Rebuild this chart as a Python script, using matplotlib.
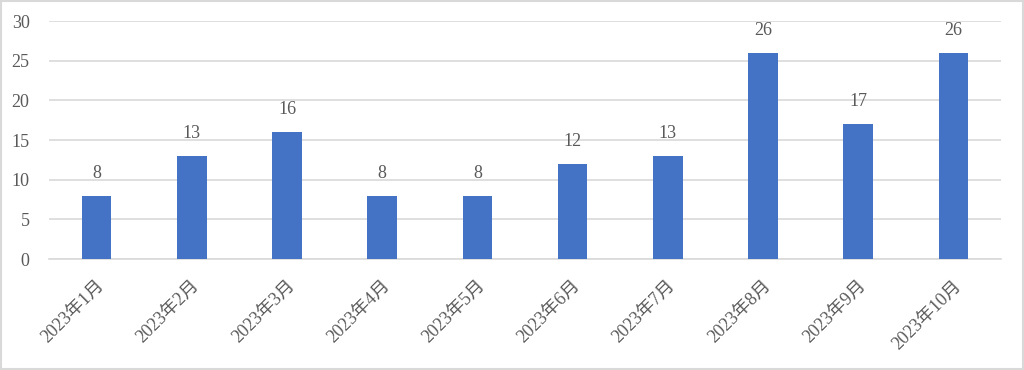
import matplotlib.pyplot as plt
import matplotlib.transforms as mtransforms
import numpy as np

plt.rcParams['font.family'] = ['Liberation Serif', 'Noto Sans CJK JP']

months = ["2023年1月", "2023年2月", "2023年3月", "2023年4月", "2023年5月",
          "2023年6月", "2023年7月", "2023年8月", "2023年9月", "2023年10月"]
counts = [8, 13, 16, 8, 8, 12, 13, 26, 17, 26]
y_ticks = [0, 5, 10, 15, 20, 25, 30]

bar_color = "#4472C4"
grid_color = "#D9D9D9"
text_color = "#595959"

fig = plt.figure(figsize=(10.24, 3.7), dpi=100)
ax = fig.add_axes([0.0479, 0.30, 0.9296, 0.6432])

x = np.arange(len(months))
ax.bar(x, counts, width=0.31, color=bar_color, zorder=3)

# value labels above bars
for xi, v in zip(x, counts):
    ax.annotate(str(v), (xi, v), xytext=(0, 10), textcoords="offset points",
                ha="center", va="bottom", fontsize=13, color=text_color)

ax.set_xlim(-0.5, len(months) - 0.5)
ax.set_ylim(0, 30)
ax.set_yticks(y_ticks)
ax.set_xticks(x)
ax.set_xticklabels(months, rotation=45, ha="right", rotation_mode="anchor",
                   fontsize=13, color=text_color)
ax.tick_params(axis="y", labelsize=13, labelcolor=text_color, length=0, pad=14)
ax.tick_params(axis="x", length=0, pad=13)

# small nudge for rotated labels
shift = mtransforms.ScaledTranslation(-1 / 100, 0, fig.dpi_scale_trans)
for lbl in ax.get_xticklabels():
    lbl.set_transform(lbl.get_transform() + shift)

ax.grid(axis="y", color=grid_color, linewidth=1.2, zorder=0)
for side in ["top", "right", "left"]:
    ax.spines[side].set_visible(False)
ax.spines["bottom"].set_color(grid_color)
ax.spines["bottom"].set_linewidth(1.2)

# outer chart border
fig.patches.append(plt.Rectangle((0.001, 0.002), 0.998, 0.996, transform=fig.transFigure,
                                 fill=False, edgecolor="#D9D9D9", linewidth=1.5))

fig.savefig("out.png", dpi=100)
